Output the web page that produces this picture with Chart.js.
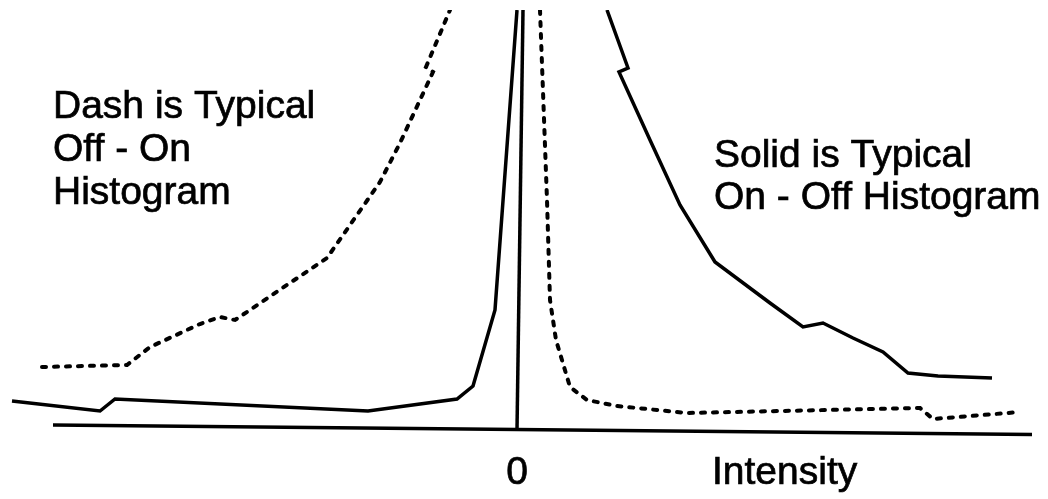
<!DOCTYPE html>
<html>
<head>
<meta charset="utf-8">
<script src="https://cdn.jsdelivr.net/npm/chart.js@4"></script>
<style>
  html, body { margin: 0; padding: 0; background: #fff; }
  #wrap { width: 1048px; height: 499px; }
</style>
</head>
<body>
<div id="wrap"><canvas id="hist" width="1048" height="499"></canvas></div>
<script>
// Off - On histogram (dashed), split in two branches around the peak
const offOnLeftX = [-47.5, -39.0, -36.7, -31.7, -29.7, -28.2, -19.0, -13.7, -11.7, -8.4, -9.1, -6.7];
const offOnLeftY = [6.3, 6.5, 8.3, 10.6, 11.3, 11.0, 17.2, 24.8, 28.7, 35.8, 36.3, 42.0];
const offOnRightX = [2.3, 3.0, 3.3, 3.9, 5.3, 7.0, 10.0, 17.0, 40.3, 41.6, 50.3];
const offOnRightY = [42.0, 23.0, 13.0, 9.0, 4.3, 3.0, 2.4, 1.7, 2.2, 1.1, 1.8];

// On - Off histogram (solid)
const onOffLeftX = [-50.5, -41.7, -40.2, -14.9, -6.0, -4.4, -2.2, 0.0];
const onOffLeftY = [2.9, 1.9, 3.1, 1.9, 3.1, 4.4, 12.0, 42.0];
const onOffRightX = [9.0, 11.1, 10.2, 13.3, 16.3, 19.8, 25.3, 28.6, 30.6, 33.6, 36.6, 39.1, 42.1, 47.5];
const onOffRightY = [42.0, 36.2, 35.8, 29.0, 22.5, 16.8, 12.7, 10.3, 10.7, 9.2, 7.8, 5.7, 5.4, 5.2];

// axis lines (scan is slightly skewed)
const baseX = [-46.4, 51.5];
const baseY = [0.5, -0.45];
const zeroX = [0.0, 0.6];
const zeroY = [0.0, 42.0];

const leftNote = ['Dash is Typical', 'Off - On', 'Histogram'];
const rightNote = ['Solid is Typical', 'On - Off Histogram'];
const tickLabel = '0';
const axisTitle = 'Intensity';

function pts(xs, ys) {
    return xs.map((x, i) => ({ x: x, y: ys[i] }));
}

function solid(data) {
    return { data: data, borderColor: '#000', borderWidth: 3.5, pointRadius: 0, showLine: true, tension: 0 };
}

function dashed(data) {
    return {
        data: data, borderColor: '#000', borderWidth: 4, pointRadius: 0, showLine: true, tension: 0,
        borderDash: [4, 8], borderCapStyle: 'round'
    };
}

const textPlugin = {
    id: 'notes',
    afterDraw(chart) {
        const ctx = chart.ctx;
        const xs = chart.scales.x;
        ctx.save();
        ctx.fillStyle = '#000';
        ctx.strokeStyle = '#000';
        ctx.lineWidth = 0.7;
        ctx.font = '39px "Liberation Sans", Arial, sans-serif';
        ctx.textBaseline = 'alphabetic';
        const put = (t, x, y, align) => {
            ctx.textAlign = align;
            ctx.fillText(t, x, y);
            ctx.strokeText(t, x, y);
        };
        leftNote.forEach((t, i) => put(t, 53, 118 + i * 43, 'left'));
        rightNote.forEach((t, i) => put(t, 714, 167 + i * 42, 'left'));
        put(tickLabel, xs.getPixelForValue(0), 484, 'center');
        put(axisTitle, 712, 484, 'left');
        ctx.restore();
    }
};

document.addEventListener('DOMContentLoaded', () => {
    const ctx = document.getElementById('hist').getContext('2d');
    new Chart(ctx, {
        type: 'scatter',
        data: {
            datasets: [
                solid(pts(baseX, baseY)),
                solid(pts(zeroX, zeroY)),
                dashed(pts(offOnLeftX, offOnLeftY)),
                dashed(pts(offOnRightX, offOnRightY)),
                solid(pts(onOffLeftX, onOffLeftY)),
                solid(pts(onOffRightX, onOffRightY))
            ]
        },
        options: {
            responsive: false,
            animation: false,
            devicePixelRatio: 1,
            layout: { padding: { top: 10, left: 0, right: 0, bottom: 0 } },
            scales: {
                x: { type: 'linear', display: false, min: -51.7, max: 53.1 },
                y: { type: 'linear', display: false, min: -6.9, max: 42 }
            },
            plugins: {
                legend: { display: false },
                tooltip: { enabled: false }
            }
        },
        plugins: [textPlugin]
    });
});
</script>
</body>
</html>
